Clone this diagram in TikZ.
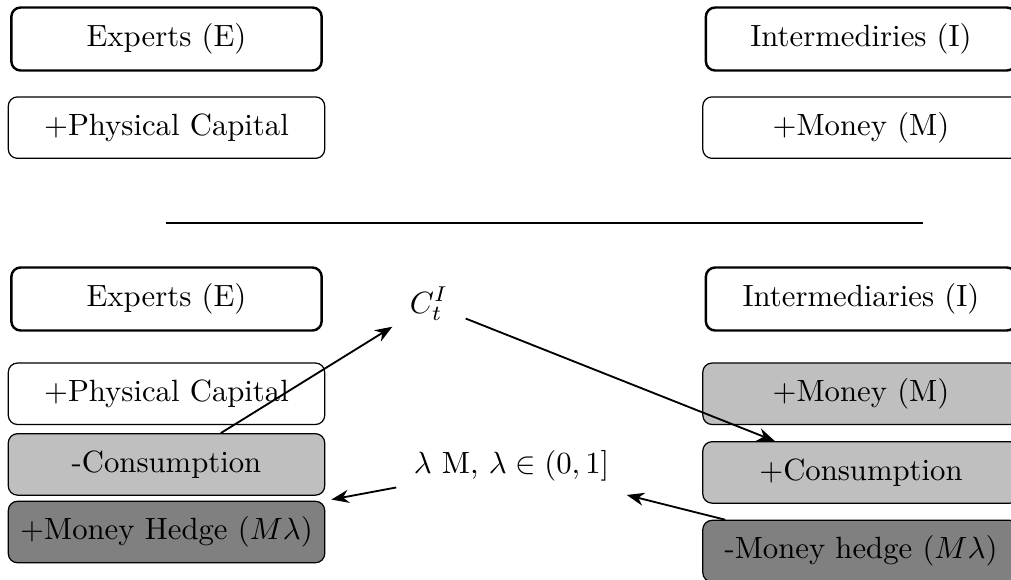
\documentclass[tikz,border=0pt]{standalone}
\usetikzlibrary{arrows.meta, positioning}

\begin{document}
\begin{tikzpicture}[
  x=0.3255pt, y=-0.3255pt,
  node distance=8pt,
  headbox/.style={rectangle, draw, thick, rounded corners=3pt,
              minimum width=101pt, minimum height=20.5pt, align=center},
  itembox/.style={rectangle, draw, rounded corners=3pt,
              minimum width=103pt, minimum height=20pt, align=center},
  lightbox/.style={itembox, fill=gray!50},
  darkbox/.style={itembox, fill=gray},
  flowlbl/.style={inner sep=5.5pt},
  arrow/.style={-{Stealth}, semithick},
]
  \useasboundingbox (0,0) rectangle (1011,579);
  \clip (0,0) rectangle (1011,579);

  % Top: balance sheets before
  \node[headbox] (expA) at (166.5,39) {Experts (E)};
  \node[itembox, below=8pt of expA] (capA) {+Physical Capital};
  \node[headbox] (intA) at (861,39) {Intermediries (I)};
  \node[itembox, below=8pt of intA] (monA) {+Money (M)};

  % Separator
  \coordinate (sepL) at (166,223);
  \coordinate (sepR) at (923,223);
  \draw[semithick] (sepL) -- (sepR);

  % Bottom left: experts
  \node[headbox] (expB) at (166.5,299) {Experts (E)};
  \node[itembox, below=10pt of expB] (capB) {+Physical Capital};
  \node[lightbox, below=2.6pt of capB] (econs) {-Consumption};
  \node[darkbox, below=1.6pt of econs] (ehedge) {+Money Hedge ($M\lambda$)};

  % Bottom right: intermediaries
  \node[headbox] (intB) at (861,299) {Intermediaries (I)};
  \node[lightbox, below=10pt of intB] (monB) {+Money (M)};
  \node[lightbox, below=5.2pt of monB] (icons) {+Consumption};
  \node[darkbox, below=5.2pt of icons] (ihedge) {-Money hedge ($M\lambda$)};

  % Flows in the middle
  \node[flowlbl] (ct) at (429,304) {$C_t^I$};
  \node[flowlbl] (lam) at (511.5,466) {$\lambda$ M, $\lambda \in (0,1]$};

  \draw[arrow] (econs.30) -- (ct);
  \draw[arrow] (ct) -- (icons.160);
  \draw[arrow] (ihedge.167) -- (lam);
  \draw[arrow, shorten >=2pt] (lam) -- (ehedge.north east);
\end{tikzpicture}
\end{document}
